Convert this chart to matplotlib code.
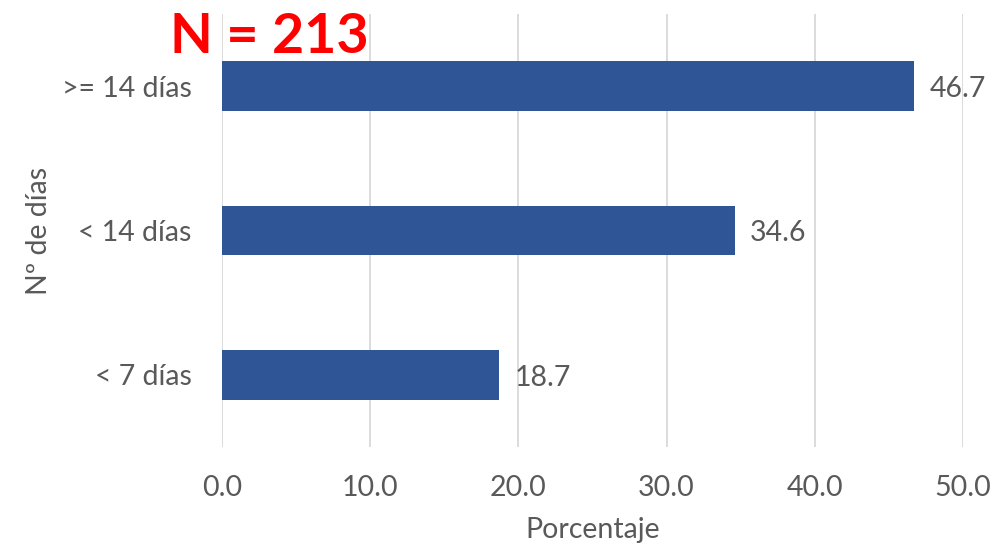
import matplotlib.pyplot as plt

plt.rcParams['font.family'] = ['Lato', 'DejaVu Sans']

categorias = ['< 7 días', '< 14 días', '>= 14 días']
porcentajes = [18.7, 34.6, 46.7]
xticks = [0, 10, 20, 30, 40, 50]

gris = '#595959'
azul = '#2F5597'
fs = 20.5

fig = plt.figure(figsize=(9.97, 5.45), dpi=100)
ax = fig.add_axes([0.2227, 0.1798, 0.9659 - 0.2227, 0.9743 - 0.1798])

pos = range(len(categorias))
ax.barh(pos, porcentajes, height=0.345, color=azul, zorder=3)
for y, v in zip(pos, porcentajes):
    ax.annotate(f'{v:.1f}', (v, y), xytext=(11, -2), textcoords='offset points',
                ha='left', va='center', fontsize=fs, color=gris)

ax.set_xlim(0, 50)
ax.set_ylim(-0.5, 2.5)
ax.set_xticks(xticks)
ax.set_xticklabels([f'{t:.1f}' for t in xticks])
ax.set_yticks(list(pos))
ax.set_yticklabels(categorias)
ax.tick_params(axis='both', length=0, labelsize=fs, colors=gris)
ax.tick_params(axis='x', pad=20)
ax.tick_params(axis='y', pad=22)
ax.grid(axis='x', color='#D9D9D9', linewidth=1.3, zorder=0)
for s in ax.spines.values():
    s.set_visible(False)

ax.set_xlabel('Porcentaje', fontsize=fs, color=gris, labelpad=12)
ax.set_ylabel('Nº de días', fontsize=fs, color=gris, labelpad=7)

fig.text(170 / 997, 1 - 53 / 545, 'N = 213', color='#FF0000', fontsize=40,
         fontweight='bold', ha='left', va='baseline')

fig.savefig('out.png', dpi=100)
